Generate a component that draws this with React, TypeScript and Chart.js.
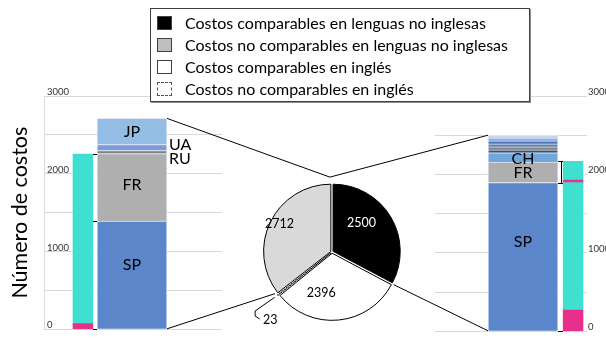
import React, { useEffect, useRef } from 'react';
import { Chart, registerables } from 'chart.js';

Chart.register(...registerables);

const FONT = 'Lato, "DejaVu Sans", sans-serif';

// ---------- Pie: total costs ----------
const pieLabels = [
  'Costos comparables en lenguas no inglesas',
  'Costos comparables en inglés',
  'Costos no comparables en inglés',
  'Costos no comparables en lenguas no inglesas',
];
const pieValues = [2500, 2396, 23, 2712];
const pieColors = ['#000000', '#ffffff', '#ffffff', '#d9d9d9'];
const pieTextColors = ['#ffffff', '#000000', '#000000', '#000000'];
const legendOrder = [0, 3, 1, 2];
const legendSwatch = ['#000000', '#ffffff', '#ffffff', '#bfbfbf'];

// ---------- Left: non-comparable costs in non-English languages ----------
const leftStackLabels = ['SP', 'FR', 'RU', 'UA', 'JP'];
const leftStackValues = [1390, 870, 38, 77, 337];
const leftStackColors = ['#5b86c9', '#afafaf', '#7f7f7f', '#7d9bd8', '#94bde6'];
const leftSideValues = [75, 2179];
const leftSideColors = ['#e8308a', '#40e0d0'];

// ---------- Right: comparable costs in non-English languages ----------
const rightStackLabels = ['SP', 'FR', 'CH', '', '', '', '', '', ''];
const rightStackValues = [1896, 262, 117, 38, 38, 38, 38, 38, 35];
const rightStackColors = ['#5b86c9', '#afafaf', '#6fa6dc', '#3f5373', '#808080', '#6683b5', '#4a76c0', '#8eaadb', '#c5d5ee'];
const rightSideValues = [272, 1624, 33, 237];
const rightSideColors = ['#e8308a', '#40e0d0', '#e8308a', '#40e0d0'];

// ---------- Axis ----------
const yLabelValues = [0, 1000, 2000, 3000];
const yAxisTitle = 'Número de costos';

// label styling (placement only)
const leftLabelStyle: any = { SP: { dy: -10 }, FR: { dy: -3 }, RU: { outside: true, dy: 6.5 }, UA: { outside: true, dy: -3 }, JP: { dy: 0 } };
const rightLabelStyle: any = { SP: { dy: -15 }, FR: { dy: 1 }, CH: { dy: 1 } };

const barLabelPlugin = {
  id: 'barLabels',
  afterDatasetsDraw(chart: any) {
    const ctx = chart.ctx;
    chart.data.datasets.forEach((ds: any, i: number) => {
      const lab = ds.barLabel;
      if (!lab) return;
      const el = chart.getDatasetMeta(i).data[0];
      const p = el.getProps(['x', 'y', 'base', 'width'], true);
      const cy = (p.y + p.base) / 2 + (lab.dy || 0);
      ctx.save();
      ctx.font = '16px ' + FONT;
      ctx.fillStyle = '#000';
      ctx.textBaseline = 'middle';
      if (lab.outside) {
        ctx.textAlign = 'left';
        ctx.fillText(lab.text, p.x + p.width / 2 + 2, cy);
      } else {
        ctx.textAlign = 'center';
        ctx.fillText(lab.text, p.x, cy);
      }
      ctx.restore();
    });
  },
};

const bracketPlugin = {
  id: 'brackets',
  afterDatasetsDraw(chart: any, _args: any, opts: any) {
    const ds = chart.data.datasets;
    const sideIdx: number[] = [];
    const stackIdx: number[] = [];
    ds.forEach((d: any, i: number) => (d.role === 'side' ? sideIdx : stackIdx).push(i));
    const sideEl = chart.getDatasetMeta(sideIdx[0]).data[0];
    const sideTopEl = chart.getDatasetMeta(sideIdx[sideIdx.length - 1]).data[0];
    const firstStack = chart.getDatasetMeta(stackIdx[0]).data[0];
    const zeroY = chart.scales.y.getPixelForValue(0);
    const topY = sideTopEl.y;
    const midY = firstStack.y;
    let a: number, b: number;
    const sideLeft = sideEl.x < firstStack.x;
    if (sideLeft) {
      a = sideEl.x + sideEl.width / 2;
      b = firstStack.x - firstStack.width / 2;
    } else {
      a = firstStack.x + firstStack.width / 2;
      b = sideEl.x - sideEl.width / 2;
    }
    if (b <= a) return;
    const ctx = chart.ctx;
    ctx.save();
    ctx.fillStyle = '#ffffff';
    ctx.fillRect(a + 0.5, topY, b - a - 1, zeroY - topY);
    ctx.strokeStyle = '#000';
    ctx.lineWidth = 1;
    ctx.beginPath();
    [topY, midY, zeroY - 0.5].forEach((yy) => {
      const y = Math.round(yy) + 0.5;
      ctx.moveTo(a, y);
      ctx.lineTo(b, y);
    });
    if (opts && opts.vertical) {
      const x = sideLeft ? Math.round(a) + 0.5 : Math.round(b) - 1.5;
      ctx.moveTo(x, Math.round(topY) + 0.5);
      ctx.lineTo(x, Math.round(midY) + 0.5);
    }
    ctx.stroke();
    ctx.restore();
  },
};

function buildBarConfig(o: any) {
  const datasets: any[] = [];
  o.sideValues.forEach((v: number, i: number) =>
    datasets.push({
      label: 'side' + i,
      role: 'side',
      data: [{ x: o.sideSlot, y: v }],
      backgroundColor: o.sideColors[i],
      borderWidth: 0,
      stack: 'side',
      barThickness: 20,
      grouped: false,
    })
  );
  o.stackValues.forEach((v: number, i: number) => {
    const name = o.stackLabels[i];
    const st = o.labelStyle[name];
    datasets.push({
      label: name || 'otro' + i,
      role: 'stack',
      data: [{ x: o.stackSlot, y: v }],
      backgroundColor: o.stackColors[i],
      borderColor: '#dce6f4',
      borderWidth: 1,
      stack: 'main',
      barThickness: 70,
      grouped: false,
      barLabel: st ? { text: name, ...st } : null,
    });
  });
  const right = o.axis === 'right';
  return {
    type: 'bar',
    data: { datasets },
    plugins: [barLabelPlugin, bracketPlugin],
    options: {
      responsive: false,
      animation: false,
      devicePixelRatio: 1,
      layout: { padding: o.padding },
      plugins: {
        legend: { display: false },
        tooltip: { enabled: false },
        brackets: { vertical: right },
      },
      scales: {
        x: { type: 'linear', display: false, offset: false, min: o.xMin, max: o.xMax },
        y: {
          position: o.axis,
          min: 0,
          max: 3000,
          stacked: true,
          afterFit: (s: any) => {
            s.width = o.axisWidth;
          },
          grid: { color: '#d9d9d9', drawTicks: false, lineWidth: 1 },
          border: { display: !right, color: '#d9d9d9' },
          ticks: {
            stepSize: 500,
            mirror: !right,
            padding: right ? 1 : 3,
            labelOffset: -4,
            color: '#333',
            font: { family: FONT, size: 9.5 },
            callback: (v: number) => (yLabelValues.includes(v) ? String(v) : ''),
          },
          title: right
            ? { display: false }
            : { display: true, text: yAxisTitle, color: '#000', font: { family: FONT, size: 21.5 }, padding: { top: 7, bottom: 0 } },
        },
      },
    },
  };
}

const pieLabelPlace = [
  { dAngle: -15, r: 0.54 },
  { dAngle: 23, r: 0.56 },
  null,
  { dAngle: 2, r: 0.81 },
];

function piePlugin(left: any, right: any) {
  return {
    id: 'pieOverlay',
    afterDatasetsDraw(chart: any) {
      const ctx = chart.ctx;
      const arcs = chart.getDatasetMeta(0).data;
      const geo = arcs.map((el: any) => {
        const p = el.getProps(['x', 'y', 'startAngle', 'endAngle', 'outerRadius'], true);
        const mid = (p.startAngle + p.endAngle) / 2;
        const o = el.options.offset || 0;
        const cx = p.x + Math.cos(mid) * o;
        const cy = p.y + Math.sin(mid) * o;
        const at = (ang: number, rr = p.outerRadius) => ({ x: cx + Math.cos(ang) * rr, y: cy + Math.sin(ang) * rr });
        return { ...p, mid, cx, cy, at };
      });
      const pr = chart.canvas.getBoundingClientRect();
      const off = (c: any) => {
        const r = c.canvas.getBoundingClientRect();
        return { dx: r.left - pr.left, dy: r.top - pr.top };
      };
      const stackEls = (c: any) => {
        const idx: number[] = [];
        c.data.datasets.forEach((d: any, i: number) => d.role === 'stack' && idx.push(i));
        return { first: c.getDatasetMeta(idx[0]).data[0], last: c.getDatasetMeta(idx[idx.length - 1]).data[0] };
      };
      const midPt = (p: any, q: any) => ({ x: (p.x + q.x) / 2, y: (p.y + q.y) / 2 });

      const top0 = midPt(geo[3].at(geo[3].endAngle), geo[0].at(geo[0].startAngle));
      const topPt = { x: top0.x - 2, y: top0.y - 5.5 };
      const lowRight = midPt(geo[0].at(geo[0].endAngle), geo[1].at(geo[1].startAngle));
      const lowLeft = midPt(geo[2].at(geo[2].endAngle), geo[3].at(geo[3].startAngle));

      const L = off(left);
      const R = off(right);
      const ls = stackEls(left);
      const rs = stackEls(right);
      const lTop = { x: ls.last.x + ls.last.width / 2 + L.dx, y: ls.last.y + L.dy };
      const lBot = { x: ls.first.x + ls.first.width / 2 + L.dx, y: ls.first.base + L.dy };
      const rTop = { x: rs.last.x - rs.last.width / 2 + R.dx, y: rs.last.y + R.dy };
      const rBot = { x: rs.first.x - rs.first.width / 2 + R.dx, y: rs.first.base + R.dy };

      ctx.save();
      ctx.strokeStyle = '#000';
      ctx.lineWidth = 1;
      ctx.beginPath();
      ctx.moveTo(lTop.x, lTop.y);
      ctx.lineTo(topPt.x, topPt.y);
      ctx.lineTo(rTop.x, rTop.y);
      ctx.moveTo(lBot.x, lBot.y);
      ctx.lineTo(lowLeft.x, lowLeft.y);
      ctx.moveTo(rBot.x, rBot.y);
      ctx.lineTo(lowRight.x, lowRight.y);
      ctx.stroke();

      ctx.font = '12.5px ' + FONT;
      ctx.textAlign = 'center';
      ctx.textBaseline = 'middle';
      geo.forEach((g: any, i: number) => {
        const pl = pieLabelPlace[i];
        if (!pl) return;
        const ang = g.mid + (pl.dAngle * Math.PI) / 180;
        const pt = g.at(ang, g.outerRadius * pl.r);
        ctx.fillStyle = pieTextColors[i];
        ctx.fillText(String(pieValues[i]), pt.x, pt.y);
      });
      const sp = geo[2].at(geo[2].mid);
      const lab = { x: sp.x - 5.5, y: sp.y + 22.7 };
      ctx.beginPath();
      ctx.moveTo(sp.x - 1, sp.y + 0.5);
      ctx.lineTo(lab.x - 15, lab.y - 8.5);
      ctx.lineTo(lab.x - 15, lab.y - 3.5);
      ctx.lineTo(lab.x - 10.5, lab.y - 0.5);
      ctx.stroke();
      ctx.fillStyle = '#000';
      ctx.fillText(String(pieValues[2]), lab.x, lab.y);
      ctx.restore();
    },
  };
}

export default function App() {
  const leftRef = useRef<HTMLCanvasElement>(null);
  const rightRef = useRef<HTMLCanvasElement>(null);
  const pieRef = useRef<HTMLCanvasElement>(null);

  useEffect(() => {
    const left = new Chart(
      leftRef.current as any,
      buildBarConfig({
        stackLabels: leftStackLabels,
        stackValues: leftStackValues,
        stackColors: leftStackColors,
        sideValues: leftSideValues,
        sideColors: leftSideColors,
        sideSlot: 1,
        stackSlot: 2,
        xMin: 0.204,
        xMax: 3.837,
        axis: 'left',
        axisWidth: 44,
        padding: { top: 16, bottom: 2, left: 0, right: 8 },
        labelStyle: leftLabelStyle,
      }) as any
    );
    const right = new Chart(
      rightRef.current as any,
      buildBarConfig({
        stackLabels: rightStackLabels,
        stackValues: rightStackValues,
        stackColors: rightStackColors,
        sideValues: rightSideValues,
        sideColors: rightSideColors,
        sideSlot: 2,
        stackSlot: 1,
        xMin: -0.76,
        xMax: 2.28,
        axis: 'right',
        axisWidth: 20,
        padding: { top: 16, bottom: 2, left: 15, right: 13 },
        labelStyle: rightLabelStyle,
      }) as any
    );
    const pie = new Chart(pieRef.current as any, {
      type: 'pie',
      data: {
        labels: pieLabels,
        datasets: [
          {
            data: pieValues,
            backgroundColor: pieColors,
            borderColor: '#000',
            borderWidth: 1,
            offset: 5,
            borderDash: (c: any) => (c.dataIndex === 2 ? [2, 1] : []),
          } as any,
        ],
      },
      plugins: [piePlugin(left, right)],
      options: {
        responsive: false,
        animation: false,
        devicePixelRatio: 1,
        radius: 67,
        layout: { padding: { left: 252, right: 194, top: 172, bottom: 6 } },
        plugins: { legend: { display: false }, tooltip: { enabled: false } },
      } as any,
    });
    return () => {
      pie.destroy();
      right.destroy();
      left.destroy();
    };
  }, []);

  return (
    <div style={{ position: 'fixed', left: 0, top: 0, width: 606, height: 338, overflow: 'hidden', background: '#fff', fontFamily: FONT }}>
      <canvas ref={leftRef} width={230} height={258} style={{ position: 'absolute', left: 0, top: 80, width: 230, height: 258 }} />
      <canvas ref={rightRef} width={200} height={258} style={{ position: 'absolute', left: 420, top: 80, width: 200, height: 258 }} />
      <canvas ref={pieRef} width={606} height={338} style={{ position: 'absolute', left: 0, top: 0, width: 606, height: 338 }} />
      <div
        style={{
          position: 'absolute',
          left: 150,
          top: 8,
          width: 380,
          height: 94,
          border: '1px solid #404040',
          boxShadow: '1px 1px 0 #8c8c8c',
          background: '#fff',
          boxSizing: 'border-box',
        }}
      >
        {legendOrder.map((idx, row) => (
          <div key={idx} style={{ position: 'absolute', left: 0, top: 2.5 + row * 22.33, height: 22, display: 'flex', alignItems: 'center' }}>
            <span
              style={{
                display: 'inline-block',
                width: 15,
                height: 14,
                marginLeft: 6,
                boxSizing: 'border-box',
                background: legendSwatch[idx],
                border: idx === 2 ? '1px dashed #555' : '1px solid #404040',
              }}
            />
            <span style={{ marginLeft: 13, fontSize: 16, color: '#000', whiteSpace: 'nowrap', lineHeight: '22px' }}>{pieLabels[idx]}</span>
          </div>
        ))}
      </div>
    </div>
  );
}
